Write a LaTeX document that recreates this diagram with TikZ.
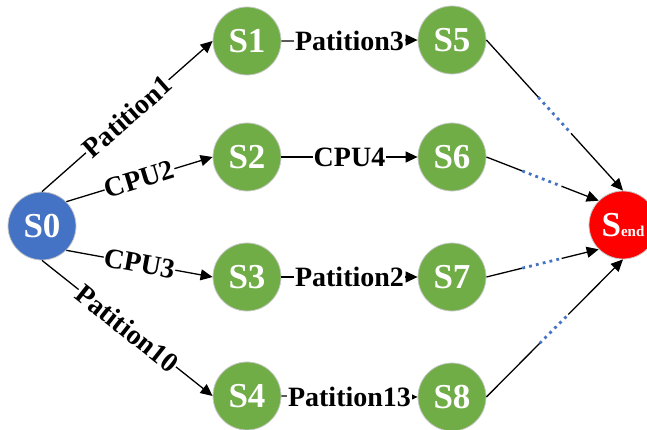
\documentclass[tikz,border=0pt]{standalone}
\usepackage{fontspec}
\setmainfont{Liberation Serif}
\usetikzlibrary{arrows.meta,calc}
\definecolor{stblue}{HTML}{4472C4}
\definecolor{stgreen}{HTML}{70AD47}
\definecolor{stred}{HTML}{FF0000}
\begin{document}
\begin{tikzpicture}[x=1pt,y=1pt,
  state/.style={circle, minimum size=68pt, inner sep=0pt, draw=black!22, line width=0.8pt,
    text=white, font=\fontsize{35}{35}\selectfont\bfseries},
  flow/.style={line width=1.3pt, -{Triangle[length=12pt,width=11pt]}},
  plain/.style={line width=1.3pt},
  gap/.style={stblue, line width=2.8pt, dash pattern=on 2.8pt off 4.2pt},
  lbl/.style={fill=white, inner sep=0.6pt, font=\fontsize{28}{28}\selectfont\bfseries}]
\useasboundingbox (0,0) rectangle (647,429);

% states
\node[state, fill=stblue]  (s0) at (42,203)  {S0};
\node[state, fill=stgreen] (s1) at (247,388) {S1};
\node[state, fill=stgreen] (s2) at (247,272) {S2};
\node[state, fill=stgreen] (s3) at (247,152) {S3};
\node[state, fill=stgreen] (s4) at (247,33)  {S4};
\node[state, fill=stgreen] (s5) at (452,389) {S5};
\node[state, fill=stgreen] (s6) at (452,272) {S6};
\node[state, fill=stgreen] (s7) at (452,152) {S7};
\node[state, fill=stgreen] (s8) at (452,32)  {S8};
\node[state, fill=stred]   (se) at (623,204) {S\fontsize{15}{15}\selectfont end};

% transitions out of S0
\draw[flow] (s0.north)      -- node[lbl, sloped] {Patition1}  (s1.west);
\draw[flow] (s0.north east) -- node[lbl, sloped] {CPU2}       (s2.west);
\draw[flow] (s0.south east) -- node[lbl, sloped] {CPU3}       (s3.west);
\draw[flow] (s0.south)      -- node[lbl, sloped] {Patition10} (s4.west);

% middle transitions
\draw[flow] (s1.east) -- node[lbl] {Patition3}  (s5.west);
\draw[flow] (s2.east) -- node[lbl] {CPU4}       (s6.west);
\draw[flow] (s3.east) -- node[lbl] {Patition2}  (s7.west);
\draw[flow] (s4.east) -- node[lbl] {Patition13} (s8.west);

% transitions into the end state, with an elided middle part
\draw[plain] (s5.east) -- ($(s5.east)!0.38!(se.north)$) coordinate (a5);
\draw[gap]   (a5) -- ($(s5.east)!0.62!(se.north)$) coordinate (b5);
\draw[flow]  (b5) -- (se.north);

\draw[plain] (s6.east) -- ($(s6.east)!0.32!(se.north west)$) coordinate (a6);
\draw[gap]   (a6) -- ($(s6.east)!0.67!(se.north west)$) coordinate (b6);
\draw[flow]  (b6) -- (se.north west);

\draw[plain] (s7.east) -- ($(s7.east)!0.32!(se.south west)$) coordinate (a7);
\draw[gap]   (a7) -- ($(s7.east)!0.67!(se.south west)$) coordinate (b7);
\draw[flow]  (b7) -- (se.south west);

\draw[plain] (s8.east) -- ($(s8.east)!0.39!(se.south)$) coordinate (a8);
\draw[gap]   (a8) -- ($(s8.east)!0.60!(se.south)$) coordinate (b8);
\draw[flow]  (b8) -- (se.south);
\end{tikzpicture}
\end{document}
